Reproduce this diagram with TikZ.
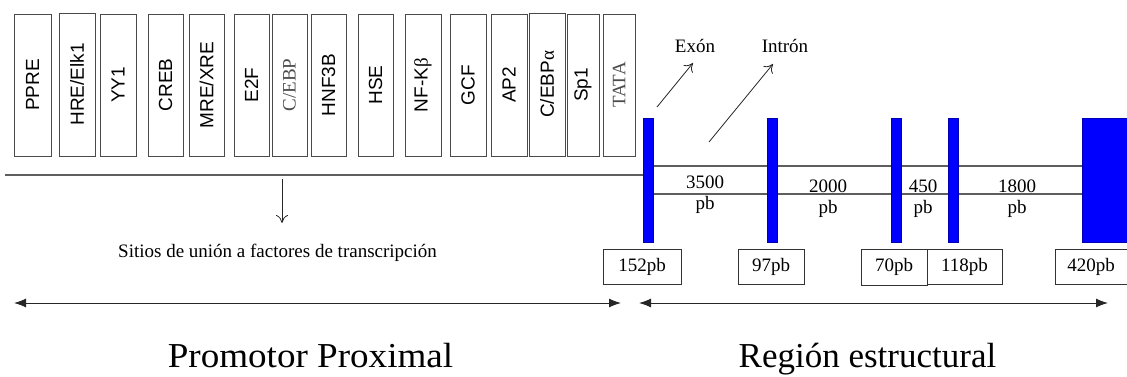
\documentclass[tikz,border=0pt]{standalone}
\usepackage{fontspec}
\setmainfont{Liberation Serif}
\setsansfont{Liberation Sans}
\usetikzlibrary{arrows.meta}
\definecolor{boxgray}{HTML}{4A4A4A}
\definecolor{linegray}{HTML}{5E5E5E}
\definecolor{exonblue}{HTML}{0000FF}
\begin{document}
\begin{tikzpicture}[x=1pt,y=-1pt,
  tfbox/.style={draw=boxgray, line width=0.9pt, fill=white, minimum height=142pt, inner sep=0pt, font=\sffamily\fontsize{19}{19}\selectfont},
  serifgray/.style={font=\rmfamily\fontsize{19}{19}\selectfont, text=black!70},
  exon/.style={fill=exonblue, draw=exonblue!70!black, line width=0.5pt},
  sizebox/.style={draw=black!80, line width=0.8pt, minimum height=35pt, inner sep=0pt, font=\rmfamily\fontsize{19}{19}\selectfont},
  lbl/.style={font=\rmfamily\fontsize{19}{19}\selectfont, inner sep=0pt},
  title/.style={font=\rmfamily\fontsize{35}{35}\selectfont, inner sep=0pt},
  dna/.style={draw=linegray, line width=1.1pt},
  thin arrow/.style={draw=black!85, line width=0.8pt, -{To[length=8pt,width=12pt]}},
  span arrow/.style={draw=black!85, line width=1pt, {Latex[length=12pt,width=9pt]}-{Latex[length=12pt,width=9pt]}}
]
\useasboundingbox (0,0) rectangle (1127,376);

% promoter DNA line
\coordinate (pl) at (5,175);
\coordinate (pr) at (643,175);
\draw[dna] (pl) -- (pr);

% transcription factor boxes
\node[tfbox, minimum width=37pt] (ppre) at (32.5,85) {\rotatebox{90}{PPRE}};
\node[tfbox, minimum width=36pt, minimum height=143pt] (hre) at (77,84.5) {\rotatebox{90}{HRE/Elk1}};
\node[tfbox, minimum width=36pt] (yy1) at (118,85) {\rotatebox{90}{YY1}};
\node[tfbox, minimum width=35pt] (creb) at (165.5,85) {\rotatebox{90}{CREB}};
\node[tfbox, minimum width=35pt] (mre) at (206.5,85) {\rotatebox{90}{MRE/XRE}};
\node[tfbox, minimum width=35pt] (e2f) at (251.5,85) {\rotatebox{90}{E2F}};
\node[tfbox, minimum width=35pt, serifgray] (cebp) at (289.5,85) {\rotatebox{90}{C/EBP}};
\node[tfbox, minimum width=35pt] (hnf) at (328.5,85) {\rotatebox{90}{HNF3B}};
\node[tfbox, minimum width=35pt] (hse) at (375.5,85) {\rotatebox{90}{HSE}};
\node[tfbox, minimum width=36pt] (nfk) at (423,85) {\rotatebox{90}{NF-K\textrm{β}}};
\node[tfbox, minimum width=36pt] (gcf) at (468,85) {\rotatebox{90}{GCF}};
\node[tfbox, minimum width=36pt] (ap2) at (509,85) {\rotatebox{90}{AP2}};
\node[tfbox, minimum width=36pt, minimum height=143pt] (cebpa) at (547,84.5) {\rotatebox{90}{C/EBP\textrm{α}}};
\node[tfbox, minimum width=32pt] (sp1) at (583,85) {\rotatebox{90}{Sp1}};
\node[tfbox, minimum width=32pt, serifgray] (tata) at (619,85) {\rotatebox{90}{TATA}};

% binding sites label
\coordinate (dtop) at (282,179);
\node[lbl, anchor=base west] (sitios) at (118,257) {Sitios de unión a factores de transcripción};
\coordinate (dbot) at (282,223);
\draw[thin arrow] (dtop) -- (dbot);

% structural region: introns
\coordinate (i1) at (653,166);
\coordinate (i2) at (1082,166);
\coordinate (i3) at (653,194);
\coordinate (i4) at (1082,194);
\draw[dna] (i1) -- (i2);
\draw[dna] (i3) -- (i4);

% exons
\node[exon, minimum width=10pt, minimum height=124pt, inner sep=0pt] (ex1) at (648,180) {};
\node[exon, minimum width=10pt, minimum height=124pt, inner sep=0pt] (ex2) at (772,180) {};
\node[exon, minimum width=10pt, minimum height=124pt, inner sep=0pt] (ex3) at (896,180) {};
\node[exon, minimum width=10pt, minimum height=124pt, inner sep=0pt] (ex4) at (953,180) {};
\node[exon, minimum width=46pt, minimum height=124pt, inner sep=0pt] (ex5) at (1105,180) {};

% intron lengths
\node[lbl] (n1) at (705,182) {3500};
\node[lbl] (p1) at (705,205) {pb};
\node[lbl] (n2) at (828,186) {2000};
\node[lbl] (p2) at (828,209) {pb};
\node[lbl] (n3) at (923,186) {450};
\node[lbl] (p3) at (923,209) {pb};
\node[lbl] (n4) at (1017,186) {1800};
\node[lbl] (p4) at (1017,209) {pb};

% exon sizes
\node[sizebox, minimum width=78pt] (s1) at (642,266.5) {152pb};
\node[sizebox, minimum width=66pt] (s2) at (771,266.5) {97pb};
\node[sizebox, minimum width=66pt, minimum height=36pt] (s3) at (894,267) {70pb};
\node[sizebox, minimum width=75pt] (s4) at (964.5,266.5) {118pb};
\node[sizebox, minimum width=72pt] (s5) at (1091,266.5) {420pb};

% exon / intron labels
\node[lbl, anchor=base] (exl) at (695,52) {Exón};
\node[lbl, anchor=base] (inl) at (785,52) {Intrón};
\coordinate (ea) at (657,107);
\coordinate (eb) at (693,63);
\coordinate (ia) at (709,142);
\coordinate (ib) at (773,64);
\draw[thin arrow] (ea) -- (eb);
\draw[thin arrow] (ia) -- (ib);

% span arrows
\coordinate (pa) at (14,303);
\coordinate (pb) at (621,303);
\coordinate (ra) at (639,303);
\coordinate (rb) at (1108,303);
\draw[span arrow] (pa) -- (pb);
\draw[span arrow] (ra) -- (rb);

% titles
\node[title, anchor=base] (prom) at (310.5,367) {\scalebox{1.06}[1]{Promotor Proximal}};
\node[title, anchor=base] (reg) at (867.5,367) {Región estructural};
\end{tikzpicture}
\end{document}
